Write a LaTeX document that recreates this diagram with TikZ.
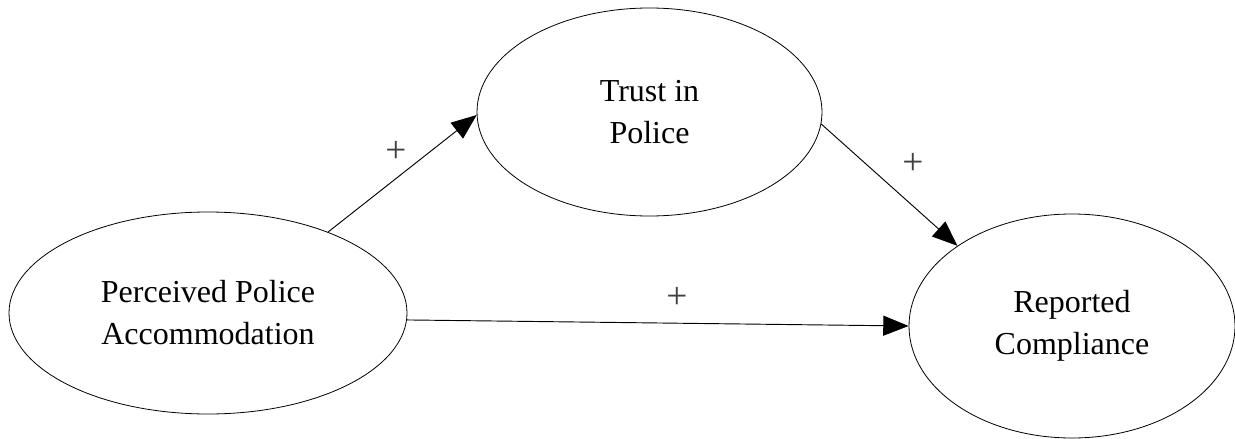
\documentclass[tikz,border=0pt]{standalone}
\usepackage{fontspec}
\setmainfont{Liberation Serif}
\usetikzlibrary{arrows.meta,shapes.geometric}
\tikzset{
  >={Triangle[length=19pt,width=15pt]},
  construct/.style={
    ellipse, draw=black, line width=0.6pt, inner sep=0pt, align=center,
    font=\fontsize{24}{31.5}\selectfont
  },
  link/.style={->, line width=0.7pt, draw=black},
  sign/.style={font=\fontsize{28}{30}\selectfont, text=black!75}
}

\begin{document}
\begin{tikzpicture}[x=0.75pt,y=-0.75pt]
\useasboundingbox (0,0) rectangle (1235,439);
% constructs
\node[construct, minimum width=298.5pt, minimum height=151.5pt] (accom) at (208,313) {Perceived Police\\Accommodation};
\node[construct, minimum width=258.75pt, minimum height=156pt] (trust) at (649.5,112) {Trust in\\Police};
\node[construct, minimum width=244.5pt, minimum height=168pt] (comply) at (1072,326) {Reported\\Compliance};
% paths
\draw[link] (accom.34.5) -- (trust.181);
\draw[link] (trust.356) -- (comply.145.5);
\draw[link] (accom.358.6) -- (comply.180);
% signs
\node[sign] (s1) at (396,152) {+};
\node[sign] (s2) at (913,164) {+};
\node[sign] (s3) at (677,298) {+};
\end{tikzpicture}
\end{document}
